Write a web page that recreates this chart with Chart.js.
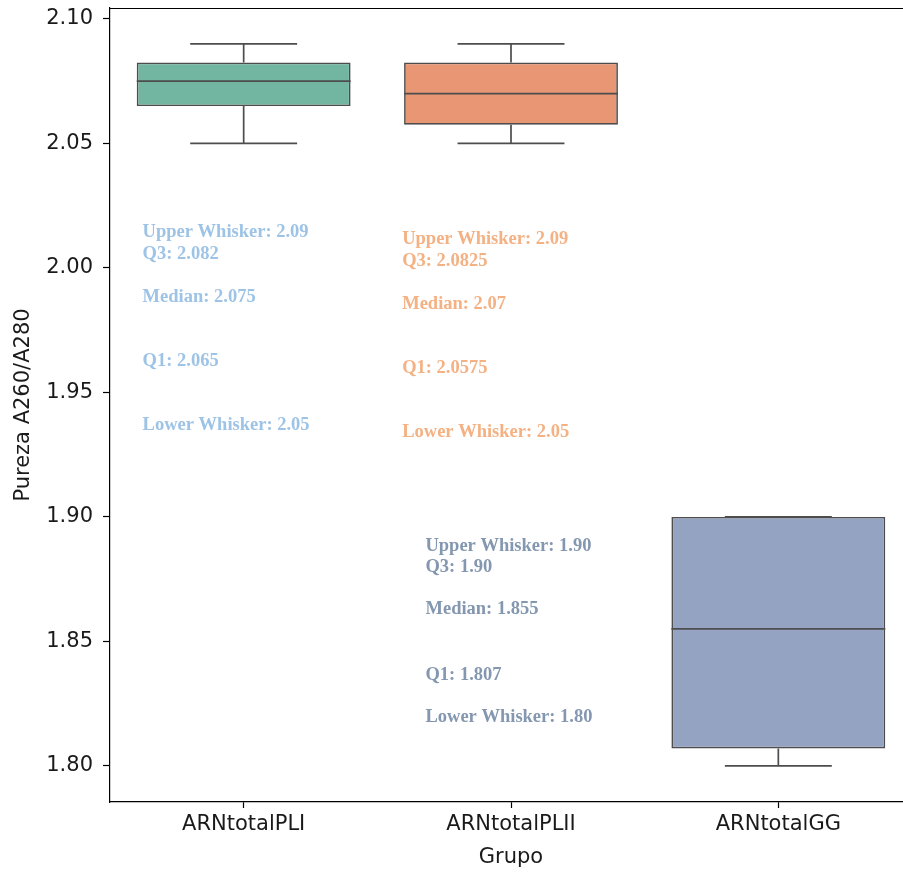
<!DOCTYPE html>
<html>
<head>
<meta charset="utf-8">
<script src="https://cdn.jsdelivr.net/npm/chart.js@4.4.1/dist/chart.umd.min.js"></script>
<style>
  html, body { margin: 0; padding: 0; background: #ffffff; overflow: hidden; }
  #wrap { width: 903px; height: 872px; overflow: hidden; }
  #wrap canvas { display: block; }
</style>
</head>
<body>
<div id="wrap"><canvas id="boxChart" width="920" height="872"></canvas></div>
<script>
// data
var groups = ["ARNtotalPLI", "ARNtotalPLII", "ARNtotalGG"];
var lowerWhisker = [2.05, 2.05, 1.80];
var q1 = [2.065, 2.0575, 1.807];
var median = [2.075, 2.07, 1.855];
var q3 = [2.0825, 2.0825, 1.90];
var upperWhisker = [2.09, 2.09, 1.90];
var yTicks = [1.80, 1.85, 1.90, 1.95, 2.00, 2.05, 2.10];

var statText = [
  ["Upper Whisker: 2.09", "Q3: 2.082", "Median: 2.075", "Q1: 2.065", "Lower Whisker: 2.05"],
  ["Upper Whisker: 2.09", "Q3: 2.0825", "Median: 2.07", "Q1: 2.0575", "Lower Whisker: 2.05"],
  ["Upper Whisker: 1.90", "Q3: 1.90", "Median: 1.855", "Q1: 1.807", "Lower Whisker: 1.80"]
];

var boxColors = ["#72b6a1", "#e99675", "#95a3c3"];
var textColors = ["#9dc3e6", "#f4b183", "#8497b0"];
var lineColor = "#4d4d4d";
var tickFont = { family: "'DejaVu Sans', sans-serif", size: 21 };

// where the annotation blocks sit (x in category units, y in data units)
var noteX = [-0.378, 0.593, 0.68];
var noteY = [
  [2.0145, 2.0056, 1.9884, 1.9627, 1.9370],
  [2.0117, 2.0028, 1.9855, 1.9598, 1.9341],
  [1.8884, 1.8799, 1.8631, 1.8366, 1.8197]
];

var boxExtras = {
  id: "boxExtras",
  afterDatasetsDraw: function (chart) {
    var ctx = chart.ctx;
    var xs = chart.scales.x;
    var ys = chart.scales.y;
    var meta = chart.getDatasetMeta(0);
    ctx.save();
    ctx.strokeStyle = lineColor;
    ctx.lineWidth = 1.7;
    for (var i = 0; i < groups.length; i++) {
      var bar = meta.data[i];
      var cx = bar.x;
      var half = bar.width / 2;
      var capHalf = half / 2;
      ctx.beginPath();
      // whiskers
      ctx.moveTo(cx, ys.getPixelForValue(q3[i]));
      ctx.lineTo(cx, ys.getPixelForValue(upperWhisker[i]));
      ctx.moveTo(cx, ys.getPixelForValue(q1[i]));
      ctx.lineTo(cx, ys.getPixelForValue(lowerWhisker[i]));
      // caps
      ctx.moveTo(cx - capHalf, ys.getPixelForValue(upperWhisker[i]));
      ctx.lineTo(cx + capHalf, ys.getPixelForValue(upperWhisker[i]));
      ctx.moveTo(cx - capHalf, ys.getPixelForValue(lowerWhisker[i]));
      ctx.lineTo(cx + capHalf, ys.getPixelForValue(lowerWhisker[i]));
      // median
      ctx.moveTo(cx - half, ys.getPixelForValue(median[i]));
      ctx.lineTo(cx + half, ys.getPixelForValue(median[i]));
      ctx.stroke();
    }

    // top and right spines
    var area = chart.chartArea;
    ctx.strokeStyle = "#000000";
    ctx.lineWidth = 1.2;
    ctx.beginPath();
    ctx.moveTo(area.left, area.top + 0.5);
    ctx.lineTo(area.right, area.top + 0.5);
    ctx.moveTo(area.right - 0.5, area.top);
    ctx.lineTo(area.right - 0.5, area.bottom);
    ctx.stroke();

    // stat annotations
    ctx.font = "bold 18.5px 'Liberation Serif', 'Times New Roman', serif";
    ctx.textAlign = "left";
    ctx.textBaseline = "middle";
    for (var g = 0; g < statText.length; g++) {
      ctx.fillStyle = textColors[g];
      var tx = xs.getPixelForValue(noteX[g]);
      for (var k = 0; k < statText[g].length; k++) {
        ctx.fillText(statText[g][k], tx, ys.getPixelForValue(noteY[g][k]));
      }
    }
    ctx.restore();
  }
};

var floating = groups.map(function (g, i) { return [q1[i], q3[i]]; });

new Chart(document.getElementById("boxChart"), {
  type: "bar",
  data: {
    labels: groups,
    datasets: [
      {
        label: "Pureza",
        data: floating,
        backgroundColor: boxColors,
        borderColor: lineColor,
        borderWidth: 1.7,
        borderSkipped: false,
        barPercentage: 0.8,
        categoryPercentage: 1.0
      }
    ]
  },
  options: {
    responsive: false,
    animation: false,
    devicePixelRatio: 1,
    layout: {
      padding: { top: 8, right: 8, left: 0, bottom: 0 }
    },
    plugins: {
      legend: { display: false },
      title: { display: false },
      tooltip: { enabled: false }
    },
    scales: {
      x: {
        type: "category",
        offset: true,
        grid: {
          display: true,
          offset: false,
          drawOnChartArea: false,
          drawTicks: true,
          tickLength: 6,
          tickColor: "#000000",
          tickWidth: 1.2
        },
        border: { display: true, color: "#000000", width: 1.2 },
        ticks: {
          color: "#1a1a1a",
          padding: 4,
          font: tickFont
        },
        title: {
          display: true,
          text: "Grupo",
          color: "#1a1a1a",
          padding: { top: 0, bottom: 2 },
          font: tickFont
        },
        afterFit: function (scale) {
          scale.height = 70;
          scale.paddingLeft = 0;
          scale.paddingRight = 0;
        }
      },
      y: {
        type: "linear",
        min: 1.7855,
        max: 2.1044,
        grid: {
          display: true,
          drawOnChartArea: false,
          drawTicks: true,
          tickLength: 7,
          tickColor: "#000000",
          tickWidth: 1.2
        },
        border: { display: true, color: "#000000", width: 1.2 },
        afterBuildTicks: function (scale) {
          scale.ticks = yTicks.map(function (v) { return { value: v }; });
        },
        ticks: {
          color: "#1a1a1a",
          padding: 10,
          font: tickFont,
          callback: function (v) { return Number(v).toFixed(2); }
        },
        title: {
          display: true,
          text: "Pureza A260/A280",
          color: "#1a1a1a",
          padding: { top: 11, bottom: 0 },
          font: tickFont
        },
        afterFit: function (scale) {
          scale.width = 110;
          scale.paddingTop = 0;
          scale.paddingBottom = 0;
        }
      }
    }
  },
  plugins: [boxExtras]
});
</script>
</body>
</html>
